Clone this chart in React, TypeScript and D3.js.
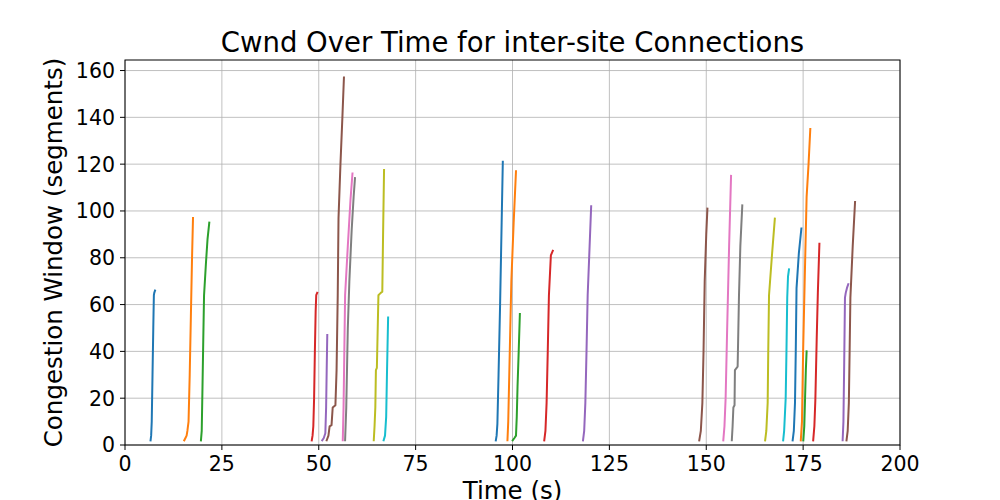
import React from "react";
import * as d3 from "d3";

const title = "Cwnd Over Time for inter-site Connections";
const xLabel = "Time (s)";
const yLabel = "Congestion Window (segments)";
const xTicks = [0, 25, 50, 75, 100, 125, 150, 175, 200];
const yTicks = [0, 20, 40, 60, 80, 100, 120, 140, 160];
const colors = ["#1f77b4", "#ff7f0e", "#2ca02c", "#d62728", "#9467bd", "#8c564b", "#e377c2", "#7f7f7f", "#bcbd22", "#17becf"];

type P = [number, number];
const conn01: P[] = [[6.6,2],[6.75,4],[6.9,10],[7.1,30],[7.3,50],[7.45,64],[7.55,65],[7.75,66]];
const conn02: P[] = [[15.3,2],[15.6,3],[15.9,4],[16.1,6],[16.4,10],[16.7,30],[17.0,55],[17.3,80],[17.55,97]];
const conn03: P[] = [[19.6,2],[19.8,6],[20.0,25],[20.2,45],[20.4,64],[20.9,78],[21.3,88],[21.75,95]];
const conn04: P[] = [[48.2,2],[48.4,4],[48.6,8],[48.8,20],[49.0,40],[49.2,57],[49.35,64],[49.6,65]];
const conn05: P[] = [[50.9,2],[51.3,3],[51.7,5],[51.9,16],[52.05,32],[52.2,47]];
const conn06: P[] = [[52.05,2],[52.5,4],[52.8,8],[53.3,8.5],[53.6,16],[54.3,17],[54.6,32],[54.9,64],[55.1,97],[55.6,120],[56.1,140],[56.5,157]];
const conn07: P[] = [[56.2,2],[56.4,16],[56.6,40],[56.8,64],[57.5,85],[58.2,105],[58.7,116]];
const conn08: P[] = [[56.8,2],[57.1,16],[57.5,50],[57.9,70],[58.5,92],[59.0,106],[59.35,114]];
const conn09: P[] = [[64.2,2],[64.4,8],[64.6,16],[64.75,32],[65.0,33],[65.4,64],[66.0,65],[66.4,65.5],[66.6,90],[66.85,117.5]];
const conn10: P[] = [[66.75,2],[67.1,4],[67.4,12],[67.6,30],[67.9,54.5]];
const conn11: P[] = [[95.7,2],[95.9,4],[96.1,9],[96.4,30],[96.8,60],[97.2,95],[97.5,121]];
const conn12: P[] = [[98.7,2],[98.9,10],[99.3,40],[99.7,70],[100.3,95],[100.9,117]];
const conn13: P[] = [[100.05,2],[100.5,3],[100.9,4],[101.1,12],[101.3,25],[101.6,40],[101.9,56]];
const conn14: P[] = [[108.2,2],[108.5,6],[108.8,18],[109.1,40],[109.4,64],[109.9,81],[110.4,83]];
const conn15: P[] = [[118.2,2],[118.5,6],[118.8,18],[119.1,40],[119.4,64],[119.9,85],[120.3,102]];
const conn16: P[] = [[148.2,2],[148.6,6],[149.0,18],[149.3,40],[149.6,70],[150.0,90],[150.3,101]];
const conn17: P[] = [[154.4,2],[154.7,8],[155.0,20],[155.4,50],[155.9,85],[156.4,115]];
const conn18: P[] = [[156.6,2],[156.8,8],[157.0,16],[157.3,17],[157.4,32],[158.1,33.5],[158.45,64],[158.8,85],[159.3,102.4]];
const conn19: P[] = [[165.2,2],[165.5,6],[165.85,18],[166.0,40],[166.2,64],[167.0,82],[167.7,96.7]];
const conn20: P[] = [[169.85,2],[170.1,6],[170.5,20],[170.7,40],[170.9,63],[171.1,72],[171.35,75]];
const conn21: P[] = [[172.3,2],[172.6,6],[172.9,18],[173.1,40],[173.3,67],[173.9,82],[174.55,92.5]];
const conn22: P[] = [[174.4,2],[174.7,10],[175.0,40],[175.4,70],[175.9,106],[176.4,120],[176.85,135]];
const conn23: P[] = [[175.05,2],[175.3,8],[175.5,20],[175.7,32],[175.9,40]];
const conn24: P[] = [[177.6,2],[177.9,8],[178.15,19],[178.5,45],[178.8,65],[179.2,86]];
const conn25: P[] = [[185.2,2],[185.4,10],[185.6,35],[185.8,63],[186.0,65],[186.3,67],[186.65,68.7]];
const conn26: P[] = [[186.2,2],[186.5,6],[186.8,18],[187.0,40],[187.2,63],[187.8,85],[188.4,103.8]];

const connections = [conn01, conn02, conn03, conn04, conn05, conn06, conn07, conn08, conn09, conn10, conn11, conn12, conn13,
  conn14, conn15, conn16, conn17, conn18, conn19, conn20, conn21, conn22, conn23, conn24, conn25, conn26];

const W = 1000, H = 500;
const M = { left: 125, right: 900, top: 60, bottom: 445 };
const font = "DejaVu Sans, sans-serif";

export default function App() {
  const x = d3.scaleLinear().domain([0, 200]).range([M.left, M.right]);
  const y = d3.scaleLinear().domain([0, 164.5]).range([M.bottom, M.top]);
  const line = d3.line<P>().x(d => x(d[0])).y(d => y(d[1]));
  return (
    <svg width={W} height={H} style={{ position: "absolute", left: 0, top: 0, background: "#fff" }} fontFamily={font}>
      <rect x={0} y={0} width={W} height={H} fill="#fff" />
      {xTicks.map(t => (
        <line key={"gx" + t} x1={x(t)} x2={x(t)} y1={M.top} y2={M.bottom} stroke="#b0b0b0" strokeWidth={0.8} />
      ))}
      {yTicks.map(t => (
        <line key={"gy" + t} x1={M.left} x2={M.right} y1={y(t)} y2={y(t)} stroke="#b0b0b0" strokeWidth={0.8} />
      ))}
      <g clipPath="url(#clip)">
        {connections.map((c, i) => (
          <path key={i} d={line(c) || ""} fill="none" stroke={colors[i % 10]} strokeWidth={2} strokeLinejoin="round" strokeLinecap="square" />
        ))}
      </g>
      <defs>
        <clipPath id="clip"><rect x={M.left} y={M.top} width={M.right - M.left} height={M.bottom - M.top} /></clipPath>
      </defs>
      <rect x={M.left} y={M.top} width={M.right - M.left} height={M.bottom - M.top} fill="none" stroke="#000" strokeWidth={1} />
      {xTicks.map(t => (
        <g key={"tx" + t}>
          <line x1={x(t)} x2={x(t)} y1={M.bottom} y2={M.bottom + 5} stroke="#000" strokeWidth={1} />
          <text x={x(t)} y={471} textAnchor="middle" fontSize={20.5}>{t}</text>
        </g>
      ))}
      {yTicks.map(t => (
        <g key={"ty" + t}>
          <line x1={M.left - 5} x2={M.left} y1={y(t)} y2={y(t)} stroke="#000" strokeWidth={1} />
          <text x={M.left - 10} y={y(t)} dy="0.36em" textAnchor="end" fontSize={20.5}>{t}</text>
        </g>
      ))}
      <text x={(M.left + M.right) / 2} y={52} textAnchor="middle" fontSize={27.5}>{title}</text>
      <text x={(M.left + M.right) / 2} y={499} textAnchor="middle" fontSize={24.5}>{xLabel}</text>
      <text transform={`translate(62,${(M.top + M.bottom) / 2}) rotate(-90)`} textAnchor="middle" fontSize={24.5}>{yLabel}</text>
    </svg>
  );
}
